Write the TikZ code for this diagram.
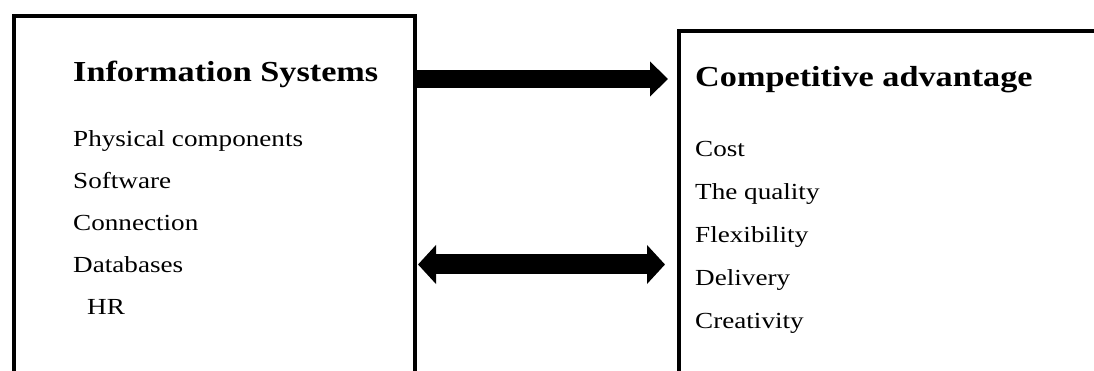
\documentclass[tikz,border=0pt]{standalone}
\usepackage{fontspec}
\setmainfont[FakeStretch=1.18]{Liberation Serif}
\usepackage{tikz}
\usetikzlibrary{arrows.meta, positioning, calc}

\begin{document}
\begin{tikzpicture}[
    x=1pt, y=1pt,
    panel/.style={rectangle, draw=black, line width=4pt, fill=white, anchor=north west, inner sep=0pt},
    heading/.style={anchor=base west, inner sep=0pt, font=\fontsize{29}{34}\selectfont\bfseries},
    item/.style={inner sep=0pt, text height=17pt, text depth=6pt, font=\fontsize{23}{28}\selectfont},
    onearrow/.style={-{Triangle[length=18pt, width=34pt]}, line width=18pt},
    twoarrow/.style={{Triangle[length=18pt, width=38pt]}-{Triangle[length=18pt, width=38pt]}, line width=20pt},
]
\clip (0,0) rectangle (1094,371);

% the two panels
\node[panel, minimum width=401pt, minimum height=420pt] (isbox) at (12,357) {};
\node[panel, minimum width=440pt, minimum height=400pt] (cabox) at (677,342) {};

% left panel
\node[heading] (istitle) at (73,289) {Information Systems};
\node[item, anchor=base west] (phys) at (73,224) {Physical components};
\node[item, below right=18.5pt and 0pt of phys.south west] (soft) {Software};
\node[item, below right=18.5pt and 0pt of soft.south west] (conn) {Connection};
\node[item, below right=18.5pt and 0pt of conn.south west] (db) {Databases};
\node[item, below right=18.5pt and 14pt of db.south west] (hr) {HR};

% right panel
\node[heading] (catitle) at (695,284) {Competitive advantage};
\node[item, anchor=base west] (cost) at (695,214) {Cost};
\node[item, below right=19.5pt and 0pt of cost.south west] (qual) {The quality};
\node[item, below right=19.5pt and 0pt of qual.south west] (flex) {Flexibility};
\node[item, below right=19.5pt and 0pt of flex.south west] (deliv) {Delivery};
\node[item, below right=19.5pt and 0pt of deliv.south west] (creat) {Creativity};

% arrows between the panels
\coordinate (topy) at (0,292);
\coordinate (boty) at (0,106.5);
\draw[onearrow] (isbox.east |- topy) -- ($(cabox.west |- topy)+(-9,0)$);
\draw[twoarrow] ($(isbox.east |- boty)+(1,0)$) -- ($(cabox.west |- boty)+(-12,0)$);

\end{tikzpicture}
\end{document}
